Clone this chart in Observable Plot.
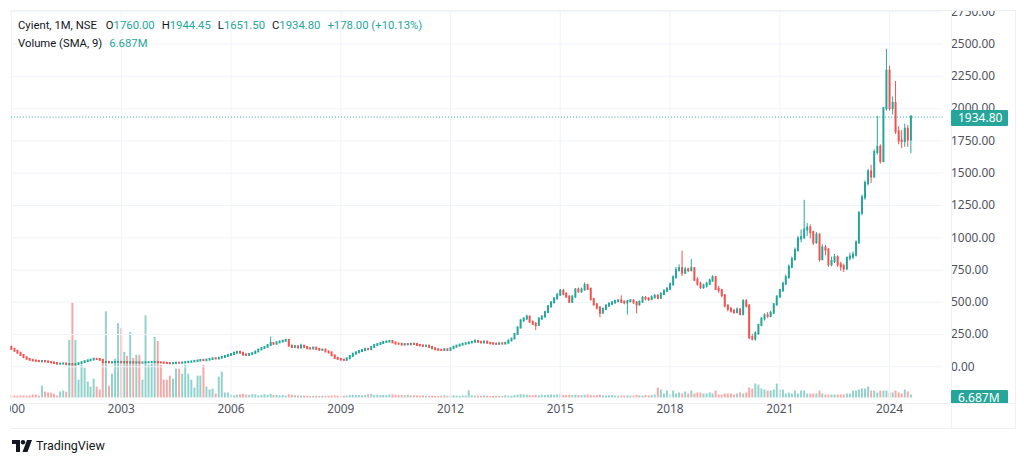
<!DOCTYPE html>
<html>
<head>
<meta charset="utf-8">
<script src="https://cdn.jsdelivr.net/npm/d3@7"></script>
<script src="https://cdn.jsdelivr.net/npm/@observablehq/plot@0.6"></script>
<style>
  body { margin: 0; background: #fff; font-family: "Noto Sans", sans-serif; }
  #wrap { position: relative; width: 1024px; height: 463px; overflow: hidden; background: #fff; }
  #clip { position: absolute; left: 10px; top: 10px; width: 1005px; height: 418px; overflow: hidden; }
  .layer { position: absolute; left: -10px; top: -10px; }
  .line { position: absolute; background: #eef0f4; }
  #legend { position: absolute; left: 18px; top: 17px; font-family: Roboto, sans-serif; font-size: 11.3px; line-height: 18px; color: #131722; white-space: nowrap; }
  #legend .v { color: #26a69a; }
  #legend .g { margin-left: 7px; }
  #tags { position: absolute; left: 951px; top: 10px; width: 64px; height: 393px; overflow: hidden; }
  .tag { position: absolute; left: 0; width: 57px; height: 16px; line-height: 16px; background: #26a69a; color: #fff; font-size: 12px; padding-left: 7px; box-sizing: border-box; border-radius: 1px; }
  #brand { position: absolute; left: 12px; top: 438px; display: flex; align-items: center; font-family: Roboto, sans-serif; font-size: 12.5px; color: #131722; }
</style>
</head>
<body>
<div id="wrap">
  <div id="clip">
    <div id="vol" class="layer"></div>
    <div id="price" class="layer"></div>
  </div>
  <div class="line" style="left:11px;top:10px;width:1004px;height:1px"></div>
  <div class="line" style="left:11px;top:428px;width:1004px;height:1px"></div>
  <div class="line" style="left:1015px;top:10px;width:1px;height:419px"></div>
  <div class="line" style="left:951px;top:10px;width:1px;height:419px"></div>
  <div class="line" style="left:11px;top:403px;width:1004px;height:1px"></div>
  <div id="tags"></div>
  <div id="legend"></div>
  <div id="brand">
    <svg width="20" height="12" viewBox="0 0 20 12" style="margin-right:4px">
      <path d="M0 0H8V12H4V4H0Z" fill="#131722"/>
      <circle cx="11" cy="2.2" r="2.2" fill="#131722"/>
      <path d="M15 0H20L15.5 12H10.5Z" fill="#131722"/>
    </svg>
    <span>TradingView</span>
  </div>
</div>
<script>
// ---- Data: monthly bars from Jan 2000 ----
const startYear = 2000;
const firstOpen = 150;
const closes = [
  135,120,105,88,70,58,50,45,42,39,41,38,
  34,30,26,20,21,22,16,18,14,17,24,32,
  40,46,52,58,56,50,32,34,30,32,33,34,
  31,33,30,32,29,31,28,30,31,32,33,34,
  31,29,27,25,23,25,28,27,29,32,35,38,
  41,45,49,47,52,56,62,60,66,72,80,88,
  95,105,112,105,92,88,95,102,115,130,142,150,
  165,180,175,185,192,198,205,160,150,155,145,160,
  150,140,138,145,135,128,130,115,108,85,65,58,
  52,50,62,80,98,108,118,125,135,132,150,165,
  172,180,188,192,196,185,176,175,168,172,170,175,
  172,165,162,158,160,150,140,132,128,126,132,127,
  140,152,160,168,175,178,185,190,196,190,185,192,
  182,178,176,174,178,176,182,200,215,250,300,355,
  370,385,345,330,320,370,385,420,465,495,525,555,
  585,560,540,500,540,595,580,595,630,600,520,480,
  455,415,445,470,485,495,505,510,500,495,505,510,
  495,480,500,530,525,520,535,545,530,560,585,600,
  635,690,745,760,725,750,745,760,670,640,612,625,
  640,665,690,600,590,550,470,445,430,420,440,405,
  505,470,225,215,255,320,370,395,390,415,480,540,
  590,640,690,770,830,900,990,1000,1060,1075,1040,960,
  1020,830,920,905,790,815,845,790,775,760,840,850,
  865,960,1190,1310,1420,1510,1470,1660,1700,1590,2000,2290,
  2000,2040,1820,1750,1745,1840,1756.8,1934.8
];
const highs = [
  160,140,124,108,92,74,60,52,47,44,43,42,
  40,36,32,27,24,25,23,20,19,19,26,34,
  42,49,55,62,62,58,52,37,35,34,35,36,
  36,35,35,34,34,33,33,32,33,34,35,36,
  35,33,31,29,27,27,30,30,31,34,37,40,
  43,48,52,52,55,59,65,65,69,76,84,93,
  99,110,118,116,108,96,99,106,119,134,148,156,
  170,230,185,190,197,205,212,210,165,162,160,175,
  165,155,146,150,148,140,134,133,120,112,90,70,
  62,56,65,85,102,114,122,130,140,142,155,170,
  178,185,193,198,203,200,190,182,178,178,178,180,
  180,176,170,166,166,163,154,143,136,133,136,136,
  143,156,165,172,180,184,190,195,210,200,194,197,
  195,186,182,180,182,182,186,205,220,258,310,365,
  380,400,392,355,340,378,395,430,475,505,535,565,
  600,600,575,550,550,605,610,610,650,640,610,530,
  490,465,455,480,495,505,515,520,550,510,515,520,
  520,505,510,545,545,535,550,560,560,575,595,615,
  650,705,770,790,895,770,765,830,765,690,655,640,
  655,680,705,700,625,600,560,480,460,445,455,450,
  520,520,480,250,270,330,380,410,420,430,490,550,
  600,655,710,790,850,920,1010,1060,1290,1110,1100,1050,
  1040,1030,945,940,915,850,870,860,810,795,850,880,
  890,975,1200,1330,1440,1530,1560,1680,1940,1720,2010,2460,
  2330,2090,2210,1860,1830,1880,1870,1944.45
];
const lows = [
  130,115,100,84,66,55,48,43,40,37,38,36,
  32,28,24,18,18,19,15,15,13,13,16,23,
  30,38,44,50,54,48,30,30,28,29,31,32,
  29,29,28,29,27,28,26,27,29,30,31,32,
  29,27,25,23,20,22,24,25,26,28,31,34,
  37,40,44,45,46,50,55,58,59,65,70,78,
  85,92,102,102,85,80,86,92,100,112,126,138,
  146,160,168,170,182,188,194,155,142,146,140,142,
  145,135,132,134,130,122,120,112,100,80,58,52,
  48,45,46,58,76,94,104,114,122,126,128,146,
  160,168,176,183,186,180,170,168,165,164,166,166,
  168,160,156,152,154,146,136,126,122,120,122,122,
  124,136,148,156,164,170,174,180,186,186,180,182,
  178,172,170,168,170,170,172,178,196,210,245,295,
  345,360,340,320,280,315,360,380,415,455,490,520,
  545,550,530,490,490,530,570,570,585,590,510,470,
  440,380,410,435,460,475,485,495,490,480,400,495,
  485,410,470,495,510,505,515,525,520,525,550,575,
  590,625,680,735,700,715,730,735,660,625,600,600,
  610,630,655,590,570,535,455,425,415,405,410,395,
  395,455,210,200,198,245,310,355,375,380,405,470,
  530,575,630,680,760,820,890,960,985,1010,990,940,
  950,810,820,860,770,775,800,770,740,730,745,820,
  830,850,950,1170,1290,1400,1420,1460,1640,1570,1580,1980,
  1980,1950,1800,1720,1690,1700,1700,1651.5
];
const volumes = [ // millions of shares
  2.4,2.3,2.2,2.5,2.4,2.1,2.6,3.6,3.4,2.2,14.4,7.2,
  6.0,5.8,4.6,2.4,7.2,8.4,7.0,69.6,115.2,69.6,21.6,39.6,
  36,19.2,13.2,22.8,13.2,9.6,46.8,104.4,14.4,28.8,46.8,90,
  84,55.2,50.4,79.2,48,51.6,51.6,21.6,99.6,39.6,40.8,73.2,
  68.4,39.6,21.6,21.6,26.4,22.8,34.8,34.8,28.8,39.6,28.8,21.6,
  12,26.4,26.4,39.6,13.2,9.6,10.8,4.8,25.2,31.2,6,6,
  3.6,2.6,3.4,3.8,4.6,3.6,3.2,4,3.8,2.6,3.2,3.8,
  3.2,4.4,2.9,3.2,2.6,2.9,2.3,4,3.4,2.7,2.4,2.2,
  2.3,2.2,2,1.9,2.2,1.7,2.3,2,1.9,2.3,2.6,2.2,
  2,2.2,2.3,2.9,3.4,3.2,2.9,2.7,3.2,4,4.3,3.2,
  3.4,2.9,3.2,3,3.6,3.7,3.2,2.9,3,2.7,3.3,2.6,
  2.7,2.4,2.3,2.6,2.2,2,2.3,2,1.9,2.2,2.6,2,
  2.3,2.6,2.2,2,2.4,2.3,8.6,2.6,2.2,2.3,2,2.4,
  2.2,2,1.9,2.3,2.2,2,2.6,2.3,2.2,2.9,3.4,4,
  3.7,3.4,2.9,2.6,3.2,2.9,3.4,3,3.3,3.6,3.2,3.7,
  4,3.2,2.9,3.4,3,3.3,2.9,2.7,3.2,3.7,3,2.6,
  2.9,3.4,2.7,2.4,2.6,2.9,2.3,2.2,2.4,2.3,2.6,2.2,
  2.3,3.2,2.6,2.4,2.9,2.7,3,3.6,12,9.6,4.8,8.4,
  3.6,8.4,4.8,6,4.8,7.2,4.8,8.4,4.8,6,6,4.8,
  4.8,6,4.8,8.4,3.6,3.6,4.8,4.8,4.8,3.6,4.8,6,
  4.8,6,12,10.8,16.8,15.6,10.8,9.6,8.4,8.4,9.6,16.8,
  9.6,9.6,4.8,6,4.8,8.4,4.8,8.4,8.4,4.8,4.8,4.8,
  4.8,8.4,4.8,3.6,3.6,3.6,3.6,3.6,3.6,3.6,4.8,4.8,
  8.4,8.4,9.6,10.8,10.8,13.2,8.4,8.4,6,8.4,8.4,8.4,
  6,6,8.4,6,4.8,9.6,7.2,3.6
];
const priceTicks = [0,250,500,750,1000,1250,1500,1750,2000,2250,2500,2750];
const yearTicks = [2000,2003,2006,2009,2012,2015,2018,2021,2024];
const legendTitle = "Cyient, 1M, NSE";
const legendOHLC = [["O","1760.00"],["H","1944.45"],["L","1651.50"],["C","1934.80"]];
const legendChange = "+178.00 (+10.13%)";
const volumeLabel = "Volume (SMA, 9)";
const volumeSMA = 6.687;
const lastClose = 1934.80;

// ---- Build table ----
const bars = closes.map((c, i) => ({
  date: new Date(Date.UTC(startYear, i, 1)),
  open: i === 0 ? firstOpen : closes[i - 1],
  close: c, high: highs[i], low: lows[i], volume: volumes[i]
}));
const UP = "#26a69a", DOWN = "#ef5350";
const UPV = "rgba(38,166,154,0.5)", DOWNV = "rgba(239,83,80,0.5)";
const xDomain = [new Date(Date.UTC(2000,0,1)), new Date(Date.UTC(2025,5,19))];
const yearDates = yearTicks.map(y => new Date(Date.UTC(y,0,1)));
const FONT = '"Noto Sans", sans-serif';
const common = { width: 1024, height: 430, marginLeft: 11, marginRight: 73 };

const volPlot = Plot.plot({
  ...common, marginTop: 301, marginBottom: 29,
  style: { background: "transparent" },
  x: { type: "utc", domain: xDomain, axis: null },
  y: { domain: [0, 120], axis: null },
  color: { type: "identity" },
  marks: [
    Plot.ruleX(bars, { x: "date", y1: 0, y2: "volume", stroke: d => d.close >= d.open ? UPV : DOWNV, strokeWidth: 2 })
  ]
});
document.getElementById("vol").appendChild(volPlot);

const pricePlot = Plot.plot({
  ...common, marginTop: 10, marginBottom: 27,
  style: { background: "transparent", fontFamily: FONT, fontSize: "12px" },
  x: { type: "utc", domain: xDomain, label: null },
  y: { domain: [-257, 2761], label: null },
  color: { type: "identity" },
  marks: [
    Plot.gridX(yearDates, { stroke: "#f0f3fa", strokeOpacity: 1 }),
    Plot.gridY(priceTicks, { stroke: "#f0f3fa", strokeOpacity: 1 }),
    Plot.ruleX(bars, { x: "date", y1: "low", y2: "high", stroke: d => d.close >= d.open ? UP : DOWN, strokeWidth: 1 }),
    Plot.ruleX(bars, { x: "date", y1: "open", y2: "close", stroke: d => d.close >= d.open ? UP : DOWN, strokeWidth: 2, strokeLinecap: "square" }),
    Plot.ruleY([lastClose], { stroke: UP, strokeDasharray: "1,2", strokeWidth: 1 }),
    Plot.axisY(priceTicks, { anchor: "right", tickSize: 0, tickPadding: 8, tickFormat: d => d.toFixed(2), label: null, fontSize: 12, color: "#50535e" }),
    Plot.axisX(yearDates, { anchor: "bottom", tickSize: 0, tickPadding: 5, tickFormat: d => String(d.getUTCFullYear()), label: null, fontSize: 12, color: "#50535e" })
  ]
});
document.getElementById("price").appendChild(pricePlot);

// ---- Tags on the price scale ----
const tags = document.getElementById("tags");
const yP = pricePlot.scale("y").apply(lastClose);
const t1 = document.createElement("div");
t1.className = "tag"; t1.textContent = lastClose.toFixed(2);
t1.style.top = (yP - 10 - 8) + "px";
tags.appendChild(t1);
const yV = volPlot.scale("y").apply(volumeSMA);
const t2 = document.createElement("div");
t2.className = "tag"; t2.textContent = volumeSMA.toFixed(3) + "M";
t2.style.top = (yV + 3 - 10 - 8) + "px";
tags.appendChild(t2);

// ---- Legend ----
const lg = document.getElementById("legend");
const l1 = document.createElement("div");
let h = `<span>${legendTitle}</span>`;
legendOHLC.forEach(([k, v], i) => { h += `<span class="g" style="margin-left:${i===0?9:7}px">${k}</span><span class="v">${v}</span>`; });
h += `<span class="v g">${legendChange}</span>`;
l1.innerHTML = h;
const l2 = document.createElement("div");
l2.innerHTML = `<span>${volumeLabel}</span><span class="v g">${volumeSMA.toFixed(3)}M</span>`;
lg.appendChild(l1); lg.appendChild(l2);
</script>
</body>
</html>
